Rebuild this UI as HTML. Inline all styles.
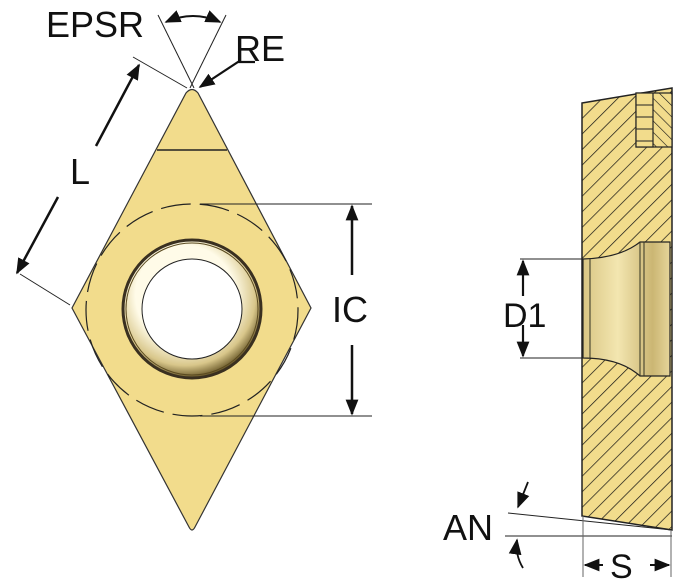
<!DOCTYPE html>
<html><head><meta charset="utf-8"><style>
html,body{margin:0;padding:0;background:#fff;width:681px;height:583px;overflow:hidden}
text{font-family:"Liberation Sans",sans-serif;fill:#111}
</style></head><body>
<svg width="681" height="583" viewBox="0 0 681 583" xmlns="http://www.w3.org/2000/svg">
<defs>
<pattern id="h" width="11" height="11" patternUnits="userSpaceOnUse" patternTransform="rotate(45)">
<rect width="11" height="11" fill="#f2dc8c"/>
<line x1="0" y1="0" x2="0" y2="11" stroke="#111" stroke-width="1.4"/>
</pattern>
<pattern id="h2" width="8" height="8" patternUnits="userSpaceOnUse" patternTransform="rotate(-45)">
<rect width="8" height="8" fill="#f2dc8c"/>
<line x1="0" y1="0" x2="0" y2="8" stroke="#111" stroke-width="1.2"/>
</pattern>
<radialGradient id="ring" cx="0.45" cy="0.4" r="0.6">
<stop offset="0.6" stop-color="#fffbe8"/><stop offset="0.85" stop-color="#d8c68a"/><stop offset="1" stop-color="#6b5a2a"/>
</radialGradient>
<linearGradient id="bore" x1="0" x2="1">
<stop offset="0" stop-color="#d9c684"/><stop offset="0.4" stop-color="#f3e6b0"/><stop offset="0.8" stop-color="#cbb673"/><stop offset="1" stop-color="#e6d59a"/>
</linearGradient>
<marker id="b" viewBox="0 0 10 10" refX="9" refY="5" markerWidth="16" markerHeight="16" markerUnits="userSpaceOnUse" orient="auto-start-reverse"><path d="M0,1L10,5L0,9z" fill="#111"/></marker>
</defs>

<!-- diamond -->
<path d="M186,93 Q192,86 198,93 L311,308 L195,527 Q192,533 189,527 L72,308 Z" fill="#f2dc8c" stroke="#333" stroke-width="1.2"/>
<line x1="157" y1="150" x2="227" y2="150" stroke="#222" stroke-width="1.5"/>
<circle cx="192" cy="310" r="106" fill="none" stroke="#222" stroke-width="1.2" stroke-dasharray="30,9"/>
<circle cx="192" cy="309" r="69" fill="url(#ring)" stroke="#3a3020" stroke-width="3"/>
<circle cx="192" cy="309" r="66" fill="none" stroke="#5a4a20" stroke-width="1"/>
<circle cx="192" cy="309" r="50" fill="#fff" stroke="#222" stroke-width="1"/>

<!-- IC -->
<line x1="200" y1="204" x2="372" y2="204" stroke="#222" stroke-width="1"/>
<line x1="200" y1="416" x2="372" y2="416" stroke="#222" stroke-width="1"/>
<line x1="352" y1="275" x2="352" y2="206" stroke="#111" stroke-width="2.5" marker-end="url(#b)"/>
<line x1="352" y1="345" x2="352" y2="414" stroke="#111" stroke-width="2.5" marker-end="url(#b)"/>
<text x="332" y="322" font-size="36">IC</text>

<!-- L -->
<line x1="133" y1="57" x2="187" y2="88" stroke="#222" stroke-width="1"/>
<line x1="20" y1="274" x2="70" y2="305" stroke="#222" stroke-width="1"/>
<line x1="96" y1="146" x2="139" y2="65" stroke="#111" stroke-width="2.5" marker-end="url(#b)"/>
<line x1="58" y1="197" x2="17" y2="273" stroke="#111" stroke-width="2.5" marker-end="url(#b)"/>
<text x="70" y="184" font-size="36">L</text>

<!-- EPSR -->
<line x1="158" y1="15" x2="194" y2="88" stroke="#222" stroke-width="1"/>
<line x1="226" y1="15" x2="190" y2="88" stroke="#222" stroke-width="1"/>
<path d="M166,22 Q193,10 220,22" fill="none" stroke="#111" stroke-width="2" marker-end="url(#b)" marker-start="url(#b)"/>
<text x="46" y="37" font-size="36">EPSR</text>
<text x="235" y="61" font-size="36">RE</text>
<polyline points="255,62 238,62 200,87" fill="none" stroke="#111" stroke-width="2.2" marker-end="url(#b)"/>

<!-- side view -->
<path d="M582,103 L672,88 L672,530 L582,516 Z" fill="url(#h)" stroke="#222" stroke-width="1.5"/>
<rect x="636" y="93" width="36" height="54" fill="url(#h2)" stroke="#222" stroke-width="1.2"/>
<rect x="636" y="93" width="17" height="54" fill="#f2dc8c" stroke="#222" stroke-width="1.2"/>
<g stroke="#222" stroke-width="1"><line x1="636" y1="105" x2="653" y2="105"/><line x1="636" y1="117" x2="653" y2="117"/><line x1="636" y1="129" x2="653" y2="129"/><line x1="636" y1="141" x2="653" y2="141"/></g>
<path d="M583,259 Q620,258 640,242 L670,242 L670,376 L640,376 Q620,358 583,358 Z" fill="url(#bore)" stroke="#222" stroke-width="1.2"/>
<g stroke="#332" stroke-width="1"><line x1="590" y1="259" x2="590" y2="358"/><line x1="640" y1="242" x2="640" y2="376"/><line x1="644" y1="242" x2="644" y2="376"/></g>

<!-- D1 -->
<line x1="520" y1="259" x2="583" y2="259" stroke="#222" stroke-width="1"/>
<line x1="520" y1="358" x2="583" y2="358" stroke="#222" stroke-width="1"/>
<line x1="523" y1="296" x2="523" y2="261" stroke="#111" stroke-width="2.2" marker-end="url(#b)"/>
<line x1="523" y1="325" x2="523" y2="356" stroke="#111" stroke-width="2.2" marker-end="url(#b)"/>
<text x="503" y="327" font-size="34">D1</text>

<!-- AN / S -->
<line x1="508" y1="513" x2="672" y2="530" stroke="#222" stroke-width="1"/>
<line x1="505" y1="536" x2="672" y2="536" stroke="#222" stroke-width="1"/>
<line x1="583" y1="516" x2="583" y2="577" stroke="#666" stroke-width="1"/>
<line x1="671" y1="530" x2="671" y2="577" stroke="#666" stroke-width="1"/>
<path d="M528,482 L518,507" fill="none" stroke="#111" stroke-width="1.8" marker-end="url(#b)"/>
<path d="M523,568 Q515,555 517,540" fill="none" stroke="#111" stroke-width="1.8" marker-end="url(#b)"/>
<text x="443" y="540" font-size="36">AN</text>
<line x1="603" y1="565" x2="585" y2="565" stroke="#111" stroke-width="2" marker-end="url(#b)"/>
<line x1="650" y1="565" x2="669" y2="565" stroke="#111" stroke-width="2" marker-end="url(#b)"/>
<text x="610" y="578" font-size="34">S</text>
</svg>
</body></html>
